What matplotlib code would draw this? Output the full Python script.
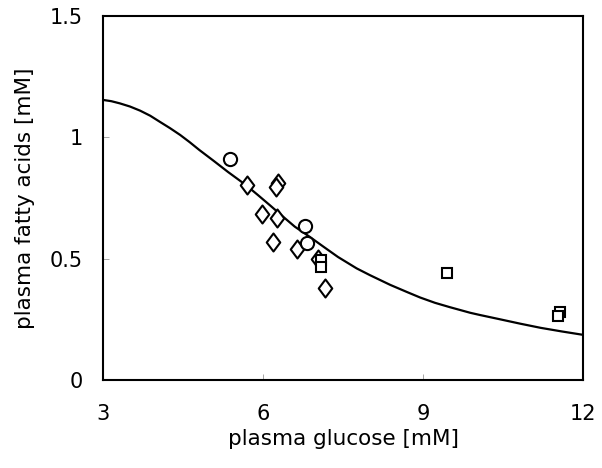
import matplotlib
matplotlib.use("Agg")
import matplotlib.pyplot as plt
from matplotlib.path import Path

# data
circle_x = [5.38, 6.79, 6.81]
circle_y = [0.909, 0.635, 0.566]

diamond_x = [5.69, 6.27, 6.24, 5.98, 6.26, 6.18, 6.64, 7.16, 7.02]
diamond_y = [0.803, 0.810, 0.794, 0.683, 0.666, 0.570, 0.538, 0.380, 0.497]

square_x = [7.08, 7.08, 9.44, 11.57, 11.52]
square_y = [0.494, 0.467, 0.442, 0.281, 0.264]

# fitted curve
curve_x = [3.0, 3.15, 3.31, 3.5, 3.69, 3.88, 4.06, 4.25, 4.44, 4.62, 4.80, 5.07, 5.34,
           5.67, 5.9, 6.13, 6.36, 6.59, 6.87, 7.13, 7.4, 7.75, 8.0, 8.38, 8.7,
           8.94, 9.22, 9.5, 9.88, 10.06, 10.4, 10.82, 11.2, 11.6, 12.0]
curve_y = [1.154, 1.149, 1.140, 1.127, 1.110, 1.089, 1.064, 1.038, 1.010, 0.980,
           0.948, 0.903, 0.857, 0.804, 0.762, 0.719, 0.675, 0.632, 0.590, 0.549,
           0.507, 0.460, 0.432, 0.392, 0.362, 0.340, 0.318, 0.300, 0.277, 0.268,
           0.252, 0.232, 0.215, 0.200, 0.186]

plt.rcParams['font.family'] = ['DejaVu Sans']

fig = plt.figure(figsize=(6.02, 4.68), dpi=100)
ax = fig.add_axes([0.1716, 0.188, 0.7974, 0.7778])

ax.plot(curve_x, curve_y, color='black', lw=1.6, zorder=2,
        solid_joinstyle='round')

tall_diamond = Path([(0, 1), (0.75, 0), (0, -1), (-0.75, 0), (0, 1)],
                    [Path.MOVETO, Path.LINETO, Path.LINETO, Path.LINETO, Path.CLOSEPOLY])

ax.plot(diamond_x, diamond_y, ls='none', marker=tall_diamond, ms=13,
        mfc='white', mec='black', mew=1.5, zorder=3)
ax.plot(circle_x, circle_y, ls='none', marker='o', ms=9.5,
        mfc='white', mec='black', mew=1.5, zorder=3)
ax.plot(square_x, square_y, ls='none', marker='s', ms=7,
        mfc='white', mec='black', mew=1.5, zorder=4)

ax.set_xlim(3, 12)
ax.set_ylim(0, 1.5)
ax.set_xticks([3, 6, 9, 12])
ax.set_yticks([0, 0.5, 1, 1.5])
ax.set_yticklabels(['0', '0.5', '1', '1.5'])
ax.tick_params(direction='in', length=4, width=0.6, color='#999999',
               labelsize=15)
ax.tick_params(axis='x', pad=17)
ax.tick_params(axis='y', pad=15)

for s in ax.spines.values():
    s.set_linewidth(1.5)
    s.set_color('black')

ax.set_xlabel('plasma glucose [mM]', fontsize=15.5, labelpad=4)
ax.set_ylabel('plasma fatty acids [mM]', fontsize=15.5, labelpad=10)

fig.savefig('out.png', dpi=100)
